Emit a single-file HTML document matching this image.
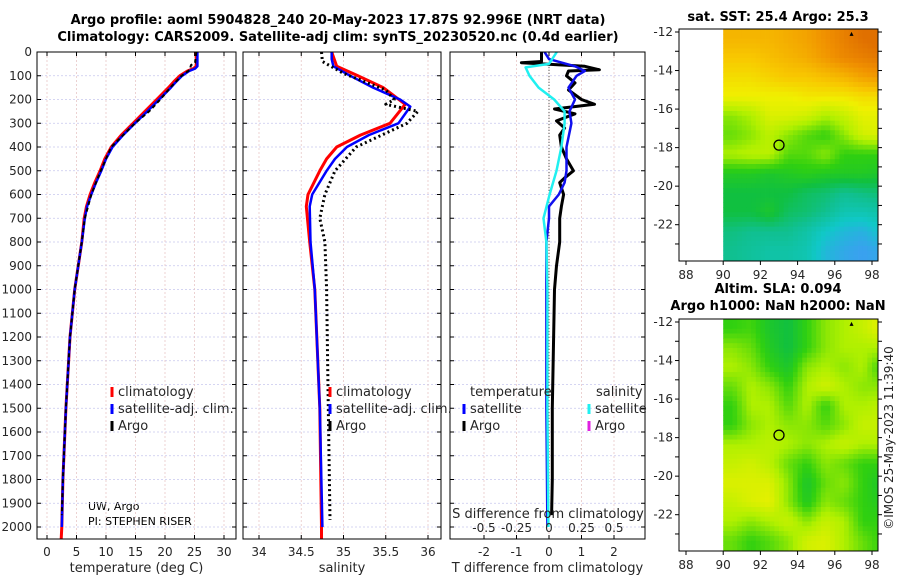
<!DOCTYPE html>
<html><head><meta charset="utf-8"><style>
body{margin:0;background:#fff}
svg{display:block;font-family:"DejaVu Sans","Liberation Sans",sans-serif}
.t{font-size:12px;fill:#262626}
.b{font-size:13px;font-weight:bold;fill:#000}
.s{font-size:11px;fill:#000}
</style></head><body>
<svg id="fig" width="900" height="580" viewBox="0 0 900 580">
<text class="b" x="338" y="24" text-anchor="middle">Argo profile: aoml 5904828_240 20-May-2023 17.87S 92.996E (NRT data)</text>
<text class="b" x="338" y="41" text-anchor="middle">Climatology: CARS2009. Satellite-adj clim: synTS_20230520.nc (0.4d earlier)</text>
<text class="b" x="778" y="21" text-anchor="middle">sat. SST: 25.4 Argo: 25.3</text>
<text class="b" x="778" y="293" text-anchor="middle">Altim. SLA: 0.094</text>
<text class="b" x="778" y="310" text-anchor="middle">Argo h1000: NaN h2000: NaN</text>
<text class="t" transform="translate(893,438) rotate(-90)" text-anchor="middle">©IMOS 25-May-2023 11:39:40</text>
<text class="s" x="88" y="510">UW, Argo</text>
<text class="s" x="88" y="525">PI: STEPHEN RISER</text>
<g id="g"></g>
</svg>
<script>
// ---- data ----
const depthTicks=[0,100,200,300,400,500,600,700,800,900,1000,1100,1200,1300,1400,1500,1600,1700,1800,1900,2000];
const tTicks=[0,5,10,15,20,25,30];
const sTicks=[34,34.5,35,35.5,36];
const dTicks=[-2,-1,0,1,2];
const sdTicks=[-0.5,-0.25,0,0.25,0.5];
const sdTickLabels=["-0.5","-0.25","0","0.25","0.5"];
const tClimDepth=[0,60,70,80,100,125,150,175,200,250,300,350,400,450,500,550,600,650,700,800,1000,1200,1500,1800,2000,2050];
const tClim=[25.3,25.3,24.8,23.8,22.5,21.5,20.6,19.6,18.6,16.6,14.6,12.6,10.9,9.8,9,8.1,7.3,6.7,6.3,5.9,4.7,3.9,3.2,2.7,2.5,2.4];
const tSatDepth=[0,60,70,80,100,125,150,175,200,250,300,350,400,450,500,550,600,650,700,800,1000,1200,1500,1800,2000];
const tSat=[25.5,25.5,25.1,24.1,22.9,21.9,21,20,19,17,14.9,12.9,11.1,10,9.2,8.3,7.5,6.8,6.4,5.9,4.7,3.9,3.2,2.7,2.5];
const tArgoDepth=[0,45,55,75,100,150,200,250,300,400,500,600,700,800,1000,1200,1500,1800,1950];
const tArgo=[25.3,25.1,24.4,24.2,22.8,20.9,19.2,17.3,14.9,10.9,9.1,7.5,6.4,5.9,4.7,3.9,3.2,2.7,2.5];
const sClimDepth=[0,60,100,150,220,300,350,400,450,500,600,650,800,1000,1500,2000,2050];
const sClim=[34.86,34.92,35.17,35.47,35.73,35.55,35.2,34.92,34.8,34.72,34.58,34.56,34.6,34.66,34.72,34.74,34.74];
const sSatDepth=[0,30,60,100,150,200,230,300,350,400,450,500,600,650,800,1000,1500,2000];
const sSat=[34.86,34.86,34.88,35.08,35.35,35.67,35.79,35.65,35.3,35.04,34.9,34.8,34.63,34.6,34.61,34.66,34.72,34.75];
const sArgoDepth=[0,40,90,160,200,220,250,300,400,500,600,700,800,1000,1500,1970];
const sArgo=[34.74,34.75,35.0,35.5,35.6,35.5,35.88,35.75,35.15,34.9,34.78,34.72,34.78,34.8,34.82,34.84];
const dTArgoDepth=[0,40,45,60,75,80,100,130,160,200,220,240,260,290,320,350,400,450,500,530,550,600,650,700,800,900,1000,1500,1800,1950];
const dTArgo=[-0.23,-0.23,-0.85,1.1,1.55,0.6,0.54,0.8,0.6,1.0,1.4,0.17,0.8,0.23,0.48,0.33,0.38,0.54,0.75,0.48,0.33,0.45,0.38,0.33,0.33,0.23,0.17,0.1,0.1,0.08];
const dTSatDepth=[0,30,60,80,100,150,200,250,300,400,500,550,600,650,700,800,1000,1500,2000];
const dTSat=[-0.14,0,0.8,1.1,0.85,0.6,0.8,0.63,0.69,0.54,0.54,0.48,0.3,0,0,-0.08,-0.08,-0.08,-0.05];
const dSSatDepth=[0,50,65,100,150,200,250,300,400,500,600,700,800,1000,1500,2000];
const dSSat=[0.06,0.0,-0.18,-0.15,-0.08,0.04,0.12,0.12,0.095,0.058,0.005,-0.042,-0.02,-0.012,-0.012,-0.005];
const sstGrid=[
[.74,.74,.74,.75,.76,.78,.80,.82,.83],
[.72,.72,.73,.74,.75,.77,.79,.80,.81],
[.70,.70,.71,.72,.72,.73,.74,.76,.77],
[.68,.68,.68,.68,.69,.69,.69,.70,.70],
[.60,.62,.66,.66,.65,.62,.64,.67,.67],
[.58,.60,.63,.60,.57,.55,.60,.65,.66],
[.62,.63,.63,.57,.57,.60,.55,.55,.55],
[.53,.53,.52,.53,.54,.53,.53,.53,.52],
[.50,.50,.50,.50,.48,.47,.45,.46,.47],
[.50,.50,.52,.48,.47,.45,.42,.42,.43],
[.46,.45,.45,.45,.43,.40,.38,.37,.40],
[.45,.44,.43,.43,.42,.38,.36,.35,.36]];
const slaGrid=[
[.55,.56,.52,.50,.55,.60,.62,.64,.67],
[.60,.58,.53,.50,.55,.60,.62,.62,.62],
[.62,.60,.55,.52,.60,.62,.60,.62,.55],
[.58,.62,.60,.55,.62,.65,.62,.60,.60],
[.55,.62,.62,.57,.62,.55,.62,.62,.63],
[.55,.60,.62,.60,.60,.57,.60,.64,.64],
[.62,.62,.63,.62,.60,.62,.64,.62,.62],
[.64,.65,.63,.58,.55,.60,.58,.55,.55],
[.66,.66,.66,.60,.52,.58,.60,.55,.52],
[.64,.66,.67,.60,.53,.60,.58,.55,.53],
[.62,.60,.62,.64,.60,.64,.62,.55,.55],
[.58,.55,.57,.60,.65,.66,.62,.58,.55]];
const lonTicks=[88,90,92,94,96,98];
const latTicks=[-12,-14,-16,-18,-20,-22];
const floatLon=[93.0], floatLat=[-17.87];

// ---- helpers ----
const NS="http://www.w3.org/2000/svg", G=document.getElementById('g');
function el(t,a,p){const e=document.createElementNS(NS,t);for(const k in a)e.setAttribute(k,a[k]);(p||G).appendChild(e);return e;}
const Y0=52,Y1=539, yD=d=>Y0+d*(527-Y0)/2000;
function lin(d0,d1,r0,r1){return v=>r0+(v-d0)*(r1-r0)/(d1-d0);}
const panels=[
 {x0:37,x1:236,sx:lin(0,30,47,224),ticks:tTicks,lab:"temperature (deg C)",name:"temperature"},
 {x0:243,x1:441,sx:lin(34,36,259,428),ticks:sTicks,lab:"salinity",name:"salinity"},
 {x0:450,x1:645,sx:lin(-2,2,484,614),ticks:dTicks,lab:"T difference from climatology",name:"difference"}];
const sxS=lin(-0.5,0.5,484,614);
panels.forEach((p,i)=>{
 const g=el('g',{});
 
 
 depthTicks.forEach(d=>{el('line',{x1:p.x0,x2:p.x1,y1:yD(d),y2:yD(d),stroke:'#c8c8ee','stroke-width':0.8,'stroke-dasharray':'2,2'},g);
  el('line',{x1:p.x0,x2:p.x0+4,y1:yD(d),y2:yD(d),stroke:'#000'},g);el('line',{x1:p.x1,x2:p.x1-4,y1:yD(d),y2:yD(d),stroke:'#000'},g);
  if(i==0){const t=el('text',{x:32,y:yD(d)+4,'text-anchor':'end',class:'t'},g);t.textContent=d;}});
 p.ticks.forEach(v=>{const x=p.sx(v);el('line',{x1:x,x2:x,y1:Y0,y2:Y1,stroke:'#e8c8c8','stroke-width':0.8,'stroke-dasharray':'2,2'},g);
  el('line',{x1:x,x2:x,y1:Y1,y2:Y1-4,stroke:'#000'},g);el('line',{x1:x,x2:x,y1:Y0,y2:Y0+4,stroke:'#000'},g);
  const t=el('text',{x:x,y:556,'text-anchor':'middle',class:'t'},g);t.textContent=v;});
 const t=el('text',{x:(p.x0+p.x1)/2,y:572,'text-anchor':'middle',class:'t',style:'font-size:13px'},g);t.textContent=p.lab;
 
});
function line(dep,val,sx,col,w,name,dash){
 const pts=dep.map((d,i)=>sx(val[i]).toFixed(1)+','+yD(d).toFixed(1)).join(' ');
 const e=el('polyline',{points:pts,fill:'none',stroke:col,'stroke-width':w,'stroke-linejoin':'round'});
 if(dash)e.setAttribute('stroke-dasharray',dash);
 
 
}
const P=panels;
line(tClimDepth,tClim,P[0].sx,'#f00',3,'temp-climatology-line');
line(tSatDepth,tSat,P[0].sx,'#0000ff',2.5,'temp-satellite-line');
line(tArgoDepth,tArgo,P[0].sx,'#000',2,'temp-argo-line','4,3');
line(sClimDepth,sClim,P[1].sx,'#f00',3,'sal-climatology-line');
line(sSatDepth,sSat,P[1].sx,'#0000ff',2.5,'sal-satellite-line');
line(sArgoDepth,sArgo,P[1].sx,'#000',3,'sal-argo-line','2,3');
el('line',{x1:P[2].sx(0),x2:P[2].sx(0),y1:yD(50),y2:yD(2000),stroke:'#444','stroke-width':1,'stroke-dasharray':'1,2'});
line(dTArgoDepth,dTArgo,P[2].sx,'#000',3,'tdiff-argo-line');
line(dTSatDepth,dTSat,P[2].sx,'#1010ee',2.5,'tdiff-satellite-line');
line(dSSatDepth,dSSat,sxS,'#20f0f0',2.5,'sdiff-satellite-line');
sdTicks.forEach((v,i)=>{const x=sxS(v);el('line',{x1:x,x2:x,y1:Y1,y2:Y1-4,stroke:'#000'});
 const t=el('text',{x:x,y:532,'text-anchor':'middle',class:'t'});t.textContent=sdTickLabels[i];});
{const t=el('text',{x:548,y:518,'text-anchor':'middle',class:'t',style:'font-size:13px'});t.textContent='S difference from climatology';
 }
panels.forEach(p=>el('rect',{x:p.x0,y:Y0,width:p.x1-p.x0,height:Y1-Y0,fill:'none',stroke:'#000','stroke-width':1}));
function leg(x,y,col,txt,name){el('rect',{x:x-1.5,y:y-9,width:3,height:10,fill:col});
 const t=el('text',{x:x+6,y:y,class:'t',style:'font-size:13px'});t.textContent=txt;
 }
leg(112,396,'#f00','climatology','legend-climatology');
leg(112,413,'#0000ff','satellite-adj. clim.','legend-satellite');
leg(112,430,'#000','Argo','legend-argo');
leg(330,396,'#f00','climatology','legend-sal-climatology');
leg(330,413,'#0000ff','satellite-adj. clim.','legend-sal-satellite');
leg(330,430,'#000','Argo','legend-sal-argo');
{const t=el('text',{x:470,y:396,class:'t',style:'font-size:13px'});t.textContent='temperature';
 const u=el('text',{x:596,y:396,class:'t',style:'font-size:13px'});u.textContent='salinity';}
leg(464,413,'#0000ff','satellite','legend-tdiff-satellite');
leg(464,430,'#000','Argo','legend-tdiff-argo');
leg(589,413,'#20f0f0','satellite','legend-sdiff-satellite');
leg(589,430,'#e020e0','Argo','legend-sdiff-argo');
// maps
const stops=[[.35,[58,160,240]],[.40,[16,200,200]],[.45,[16,192,144]],[.50,[16,192,64]],[.55,[48,208,16]],[.62,[176,240,0]],[.68,[240,240,0]],[.72,[248,200,0]],[.78,[240,144,0]],[.82,[224,112,0]]];
function cmap(v){if(v<=stops[0][0])return 'rgb('+stops[0][1]+')';
 for(let i=1;i<stops.length;i++)if(v<=stops[i][0]){const a=stops[i-1],b=stops[i],f=(v-a[0])/(b[0]-a[0]);
  return 'rgb('+a[1].map((c,k)=>Math.round(c+(b[1][k]-c)*f)).join(',')+')';}
 return 'rgb('+stops[stops.length-1][1]+')';}
function bil(grid,r,c){const R=grid.length-1,C=grid[0].length-1;
 r=Math.max(0,Math.min(R,r));c=Math.max(0,Math.min(C,c));
 const r0=Math.floor(r),c0=Math.floor(c),r1=Math.min(R,r0+1),c1=Math.min(C,c0+1),fr=r-r0,fc=c-c0;
 return grid[r0][c0]*(1-fr)*(1-fc)+grid[r1][c0]*fr*(1-fc)+grid[r0][c1]*(1-fr)*fc+grid[r1][c1]*fr*fc;}
function map(top,grid,name){
 const X0=679,X1=878,T=top,B=top+232;
 const mx=lin(88,98,686,872), my=lin(-12,-22,top+3,top+195.7);
 const g=el('g',{});
 const sub=4, rows=grid.length*sub, cols=grid[0].length*sub;
 for(let a=0;a<rows;a++)for(let b=0;b<cols;b++){
   const vv=bil(grid,(a+.5)/sub-.5,(b+.5)/sub-.5);
   const lon0=90+b/sub, lat0=-11.85-a/sub;
   const x=mx(lon0),x2=Math.min(mx(lon0+1/sub),X1), y=my(lat0), y2=Math.min(my(lat0-1/sub),B);
   if(x>=X1||y>=B)continue;
   el('rect',{x:x.toFixed(2),y:y.toFixed(2),width:(x2-x+0.4).toFixed(2),height:(y2-y+0.4).toFixed(2),fill:cmap(vv)},g);
 }
 el('rect',{x:X0,y:T,width:X1-X0,height:B-T,fill:'none',stroke:'#000'},g);
 lonTicks.forEach(v=>{const x=mx(v);el('line',{x1:x,x2:x,y1:B,y2:B+4,stroke:'#000'},g);
  const t=el('text',{x:x,y:B+18,'text-anchor':'middle',class:'t'},g);t.textContent=v;});
 latTicks.concat([-13,-15,-17,-19,-21,-23]).forEach(v=>{const y=my(v);el('line',{x1:X0-4,x2:X0,y1:y,y2:y,stroke:'#000'},g);el('line',{x1:X1,x2:X1+4,y1:y,y2:y,stroke:'#000'},g);});
 latTicks.forEach(v=>{const t=el('text',{x:673,y:my(v)+4,'text-anchor':'end',class:'t'},g);t.textContent=v;});
 const c=el('circle',{cx:mx(floatLon[0]),cy:my(floatLat[0]),r:5,fill:'none',stroke:'#000','stroke-width':1.3},g);
 
 el('polygon',{points:`${mx(96.9)-2},${my(-12.1)+2} ${mx(96.9)+2},${my(-12.1)+2} ${mx(96.9)},${my(-12.1)-2}`,fill:'#000'},g);
}
map(29,sstGrid,'sst-map');
map(319,slaGrid,'sla-map');
</script>
</body></html>
